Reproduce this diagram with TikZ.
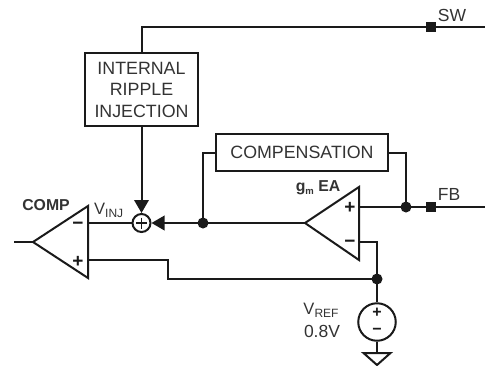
\documentclass[tikz,border=0pt]{standalone}
\usepackage{fontspec}
\setmainfont{Liberation Sans}
\usetikzlibrary{arrows.meta}
\definecolor{ink}{HTML}{1A1A1A}
\definecolor{txt}{HTML}{333333}
\tikzset{
  wire/.style={draw=ink,line width=2pt},
  tobox/.style={draw=ink,line width=2pt,fill=white,inner sep=0pt,align=center,text=txt,font=\fontsize{17.8}{21.5}\selectfont},
  dotj/.style={circle,fill=ink,inner sep=0pt,minimum size=11pt},
  pin/.style={rectangle,fill=ink,inner sep=0pt,minimum size=10.5pt},
  lab/.style={inner sep=0pt,text=txt,font=\fontsize{17.5}{20}\selectfont},
  blab/.style={inner sep=0pt,text=txt,font=\fontsize{15.8}{18}\selectfont\bfseries},
  sgn/.style={inner sep=0pt,text=ink,font=\fontsize{19}{19}\selectfont\bfseries},
  ssgn/.style={inner sep=0pt,text=ink,font=\fontsize{16}{16}\selectfont\bfseries},
  arr/.style={-{Triangle[length=13pt,width=14.5pt]}},
  amp/.style={draw=ink,line width=2pt,line join=miter,fill=white},
  ring/.style={circle,draw=ink,line width=2pt,inner sep=0pt,fill=white}
}
\begin{document}
\begin{tikzpicture}[x=1pt,y=-1pt]
\useasboundingbox (0,0) rectangle (485,365);
% amplifiers
\coordinate (cA) at (33,242); \coordinate (cT) at (88,206); \coordinate (cB) at (88,278);
\coordinate (cM) at (88,223); \coordinate (cP) at (88,260); \coordinate (cOut) at (14,242);
\coordinate (eA) at (305,223); \coordinate (eT) at (359,187); \coordinate (eB) at (359,260);
\coordinate (eP) at (359,207); \coordinate (eM) at (359,242);
% nodes
\node[tobox,minimum width=113pt,minimum height=73pt] (inj) at (141.5,89.5) {INTERNAL\\RIPPLE\\INJECTION};
\node[tobox,minimum width=172pt,minimum height=37pt] (comp) at (302,152.5) {COMPENSATION};
\node[ring,minimum size=18pt] (sum) at (141.5,223) {};
\node[ring,minimum size=37.5pt] (vref) at (377,322) {};
\node[dotj] (j1) at (203,223) {};
\node[dotj] (j2) at (406,207) {};
\node[dotj] (j3) at (377,279) {};
\coordinate (swR) at (485,27); \coordinate (fbR) at (485,207);
\coordinate (swC) at (141.5,27);
\coordinate (gT) at (377,353);
% wires
\draw[wire] (swR) -- (swC) -- (inj.north);
\draw[wire,arr] (inj.south) -- (sum.north);
\draw[wire,arr] (eA) -- (sum.east);
\draw[wire] (cM) -- (sum.west);
\draw[wire] (comp.west) -| (j1.center);
\draw[wire] (comp.east) -| (j2.center);
\draw[wire] (eP) -- (fbR);
\draw[wire] (eM) -| (j3.center);
\draw[wire] (cP) -- (168,260) -- (168,279) -- (j3.center);
\draw[wire] (j3.center) -- (vref.north);
\draw[wire] (vref.south) -- (gT);
\draw[wire] (cOut) -- (cA);
% shapes
\draw[amp] (cA) -- (cT) -- (cB) -- cycle;
\draw[amp] (eA) -- (eT) -- (eB) -- cycle;
\draw[wire,line join=miter] (363.5,353) -- (390.5,353) -- (377,365) -- cycle;
\draw[draw=ink,line width=1.5pt] (sum.center) ++(-5.5,0) -- ++(11,0) (sum.center) ++(0,-5.5) -- ++(0,11);
\node[pin] (sw) at (431,27) {};
\node[pin] (fb) at (431,207) {};
% signs
\node[sgn] (cm) at (78,226) {\textminus};
\node[sgn] (cp) at (78,262) {+};
\node[sgn] (ep) at (350,208) {+};
\node[sgn] (em) at (350,244) {\textminus};
\node[ssgn] (vp) at (377,312.5) {+};
\node[ssgn] (vm) at (377,331.5) {\textminus};
% labels
\node[lab] (swl) at (452,15) {SW};
\node[lab] (fbl) at (449,194) {FB};
\node[blab] (compl) at (46,205) {COMP};
\node[lab,anchor=west,font=\fontsize{16.5}{20}\selectfont] (vinj) at (94,210) {V\raisebox{-3pt}{\fontsize{12}{12}\selectfont INJ}};
\node[blab] (gm) at (318,188) {g\raisebox{-3pt}{\fontsize{9.5}{10}\selectfont m} EA};
\node[lab,font=\fontsize{16.5}{20}\selectfont] (vr1) at (321,310) {V\raisebox{-3pt}{\fontsize{12}{12}\selectfont REF}};
\node[lab] (vr2) at (322,331) {0.8V};
\end{tikzpicture}
\end{document}
